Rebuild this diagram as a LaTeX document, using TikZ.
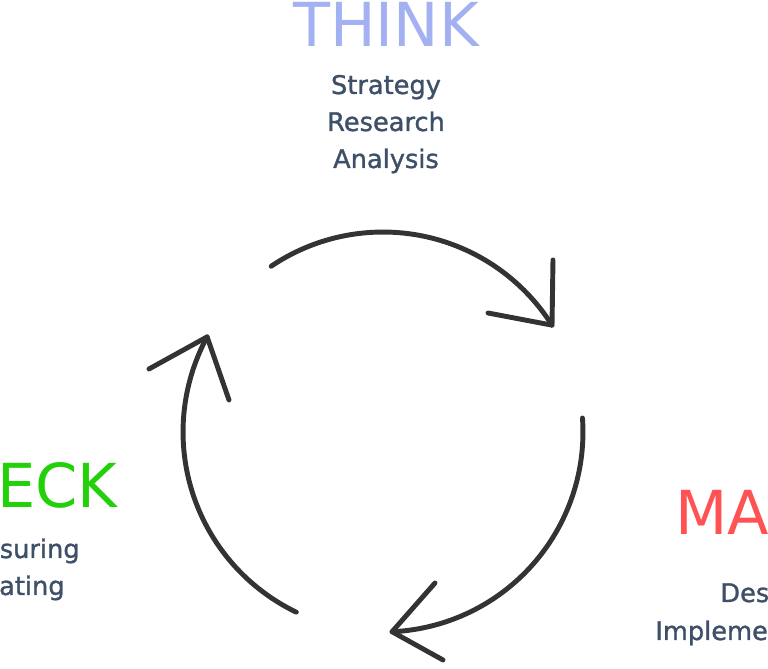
\documentclass[tikz,border=0pt]{standalone}
\usepackage{fontspec}
\setmainfont{DejaVu Sans}
\newfontfamily\medfont[FakeBold=1.2]{DejaVu Sans}
\definecolor{thinkblue}{RGB}{163,176,242}
\definecolor{checkgreen}{RGB}{34,209,10}
\definecolor{makered}{RGB}{255,82,82}
\definecolor{slate}{RGB}{61,80,104}
\definecolor{ink}{RGB}{51,51,51}
\begin{document}
\begin{tikzpicture}[x=0.02cm,y=0.02cm,
  cyc/.style={ink,line width=2.8pt,line cap=round,line join=round},
  head/.style={font=\fontsize{34.5}{40}\selectfont,inner sep=0pt},
  sub/.style={slate,font=\medfont\fontsize{14.6}{16}\selectfont,inner sep=0pt}]
\useasboundingbox (-383,-237) rectangle (385,432);
\clip (-383,-237) rectangle (385,432);
% cycle arcs
\draw[cyc] (124:4cm) arc[start angle=124,end angle=32.3,radius=4cm] coordinate (tipT);
\draw[cyc] (4:4cm) arc[start angle=4,end angle=-87.4,radius=4cm] coordinate (tipM);
\draw[cyc] (-115.7:4cm) arc[start angle=-115.7,end angle=-208.4,radius=4cm] coordinate (tipC);
% heads
\draw[cyc] (170,172) -- (tipT) -- (105,119);
\draw[cyc] (52,-151) -- (tipM) -- (60,-228);
\draw[cyc] (-234,63) -- (tipC) -- (-154,32);
% THINK
\node[head,thinkblue,anchor=base] (think) at (3,385) {THINK};
\foreach \w [count=\i] in {Strategy,Research,Analysis}
{
\node[sub,anchor=base] (think-\i) at (3,{375-37*\i}) {\w};
}
% CHECK
\node[head,checkgreen,anchor=base east] (check) at (-265,-76) {CHECK};
\node[sub,anchor=base east] (check-1) at (-303,-126) {Measuring};
\node[sub,anchor=base east] (check-2) at (-318,-163) {Iterating};
% MAKE
\node[head,makered,anchor=base west] (make) at (292,-103) {MAKE};
\node[sub,anchor=base west] (make-1) at (337,-170) {Design};
\node[sub,anchor=base west] (make-2) at (272,-208) {Implementation};
\end{tikzpicture}
\end{document}
